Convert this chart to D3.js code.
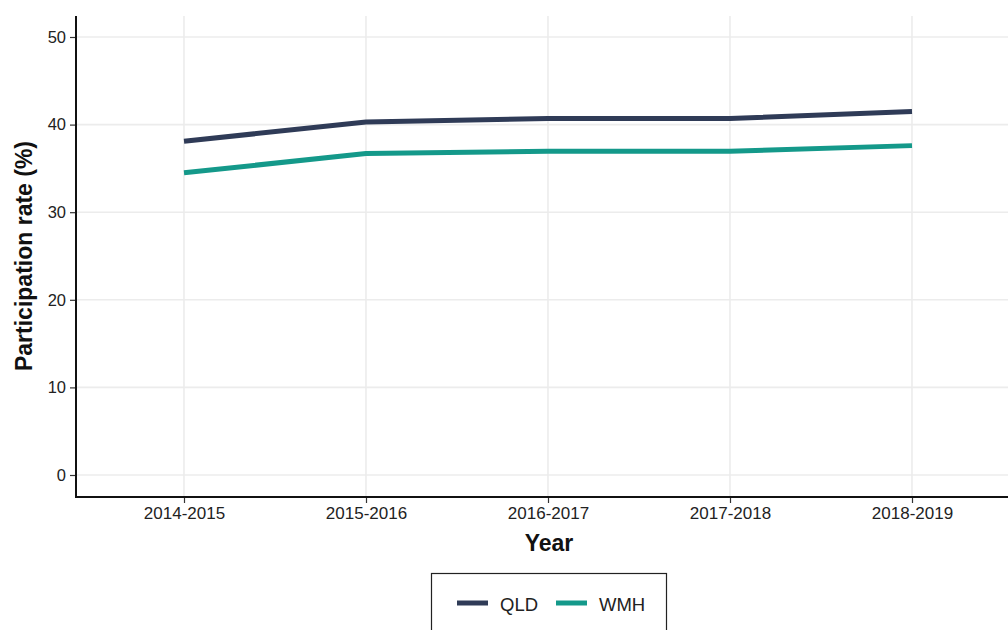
<!DOCTYPE html>
<html>
<head>
<meta charset="utf-8">
<script src="https://cdn.jsdelivr.net/npm/d3@7"></script>
<style>
  html, body { margin: 0; padding: 0; background: #fff; }
  svg { display: block; font-family: "Liberation Sans", Arial, sans-serif; }
</style>
</head>
<body>
<svg id="chart" width="1008" height="630"></svg>
<script>
// Participation rate by financial year
const years = ["2014-2015", "2015-2016", "2016-2017", "2017-2018", "2018-2019"];
const qldValues = [38.1, 40.3, 40.7, 40.7, 41.5];
const wmhValues = [34.5, 36.7, 36.95, 36.95, 37.6];
const seriesNames = ["QLD", "WMH"];
const seriesColors = ["#2f3b57", "#14998a"];
const yTicks = [0, 10, 20, 30, 40, 50];

const series = [
  { name: seriesNames[0], values: qldValues, color: seriesColors[0] },
  { name: seriesNames[1], values: wmhValues, color: seriesColors[1] }
];

const svg = d3.select("#chart");
const plotLeft = 76, plotTop = 16, plotBottom = 497, plotRight = 1022;

// discrete x positions; the panel runs past the right edge of the page
const x = d3.scalePoint().domain(years).range([184, 912]);
const y = d3.scaleLinear().domain([0, 50]).range([475, 37]);

// grid lines
const grid = svg.append("g");
grid.selectAll(".gy").data(yTicks).join("line")
  .attr("x1", plotLeft).attr("x2", plotRight)
  .attr("y1", d => y(d)).attr("y2", d => y(d))
  .attr("stroke", "#ececec").attr("stroke-width", 1.6);
grid.selectAll(".gx").data(years).join("line")
  .attr("x1", d => x(d)).attr("x2", d => x(d))
  .attr("y1", plotTop).attr("y2", plotBottom)
  .attr("stroke", "#ececec").attr("stroke-width", 1.6);

// lines
const line = d3.line().x((d, i) => x(years[i])).y(d => y(d));
svg.append("g").selectAll("path").data(series).join("path")
  .attr("d", d => line(d.values))
  .attr("fill", "none")
  .attr("stroke", d => d.color)
  .attr("stroke-width", 5)
  .attr("stroke-linejoin", "round")
  .attr("stroke-linecap", "butt");

// y axis
const yAxis = svg.append("g").attr("transform", `translate(${plotLeft},0)`)
  .call(d3.axisLeft(y).tickValues(yTicks).tickSize(6).tickPadding(4));
yAxis.select(".domain").remove();
yAxis.selectAll(".tick line").attr("stroke", "#333").attr("stroke-width", 1.2);
yAxis.selectAll(".tick text").attr("fill", "#222").style("font-size", "16.5px");
svg.append("line").attr("x1", plotLeft).attr("x2", plotLeft).attr("y1", plotTop).attr("y2", plotBottom + 1)
  .attr("stroke", "#111").attr("stroke-width", 2);

// x axis
const xAxis = svg.append("g").attr("transform", `translate(0,${plotBottom})`)
  .call(d3.axisBottom(x).tickSize(6).tickPadding(4));
xAxis.select(".domain").remove();
xAxis.selectAll(".tick line").attr("stroke", "#333").attr("stroke-width", 1.2);
xAxis.selectAll(".tick text").attr("fill", "#222").style("font-size", "17px");
svg.append("line").attr("x1", plotLeft - 1).attr("x2", plotRight).attr("y1", plotBottom).attr("y2", plotBottom)
  .attr("stroke", "#111").attr("stroke-width", 2);

// axis titles
svg.append("text").attr("x", 549).attr("y", 551)
  .attr("text-anchor", "middle").attr("font-weight", "bold")
  .style("font-size", "23px").attr("fill", "#111").text("Year");
svg.append("text").attr("transform", "translate(32,256) rotate(-90)")
  .attr("text-anchor", "middle").attr("font-weight", "bold")
  .style("font-size", "23px").attr("fill", "#111").text("Participation rate (%)");

// legend
const legend = svg.append("g");
legend.append("rect").attr("x", 431.5).attr("y", 573.5).attr("width", 235).attr("height", 70)
  .attr("fill", "#fff").attr("stroke", "#222").attr("stroke-width", 1.2);
const keyX = [457, 556];
const items = legend.selectAll(".item").data(series).join("g")
  .attr("transform", (d, i) => `translate(${keyX[i]},603)`);
items.append("line").attr("x1", 0).attr("x2", 31).attr("y1", 0).attr("y2", 0)
  .attr("stroke", d => d.color).attr("stroke-width", 5);
items.append("text").attr("x", 43).attr("y", 8)
  .style("font-size", "18.5px").attr("fill", "#222").text(d => d.name);
</script>
</body>
</html>
